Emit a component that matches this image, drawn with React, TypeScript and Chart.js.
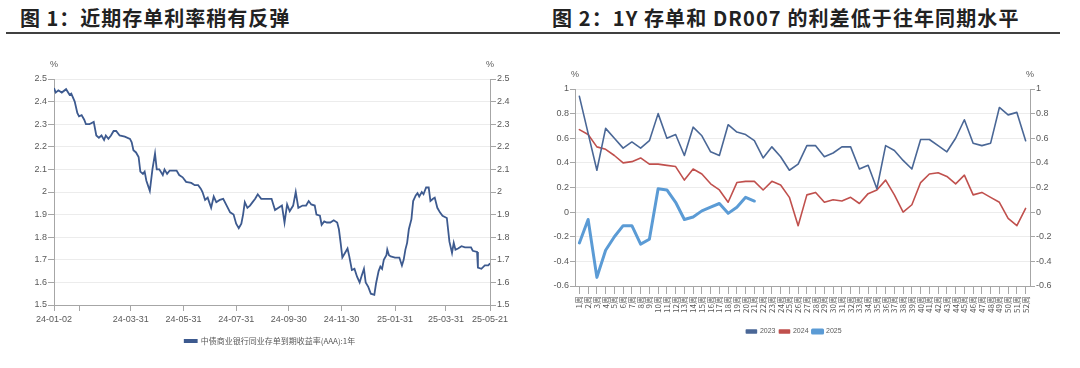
import React, { useEffect, useRef } from 'react';
import { Chart, registerables } from 'chart.js';

Chart.register(...registerables);

const FONT = '"Liberation Sans", "Noto Sans CJK SC", sans-serif';
const CJK = '"Noto Sans CJK SC", "Liberation Sans", sans-serif';

// ---------- Figure 1 ----------
const title1 = '图 1：近期存单利率稍有反弹';
const rateSeriesName = '中债商业银行同业存单到期收益率(AAA):1年';
// days since 2024-01-02
const rateDays = [
  0, 2, 5, 9, 14, 18, 20, 24, 27, 29, 32, 35, 37, 41, 46, 49, 52, 55, 58, 60,
  63, 66, 69, 72, 76, 82, 88, 90, 92, 95, 98, 100, 103, 105, 107, 111, 114, 117, 119, 122,
  126, 128, 131, 134, 138, 142, 145, 149, 153, 159, 163, 167, 170, 172, 175, 178, 182, 185, 188, 192,
  196, 200, 204, 208, 211, 214, 217, 219, 221, 224, 227, 230, 233, 236, 240, 244, 248, 252, 256, 260,
  264, 267, 270, 273, 277, 280, 283, 288, 292, 295, 298, 302, 304, 308, 310, 313, 316, 320, 324, 328,
  330, 332, 334, 337, 340, 342, 345, 348, 351, 354, 356, 359, 361, 364, 367, 371, 373, 376, 378, 380,
  382, 385, 386, 388, 390, 395, 400, 403, 405, 407, 409, 411, 414, 416, 419, 421, 423, 426, 428, 431,
  434, 436, 439, 441, 444, 447, 450, 455, 458, 461, 463, 465, 468, 472, 476, 480, 483, 485, 490, 491,
  495, 499, 503, 505,
];
const rateValues = [
  2.46, 2.44, 2.45, 2.44, 2.455, 2.43, 2.435, 2.4, 2.35, 2.335, 2.34, 2.32, 2.3, 2.3, 2.31, 2.25, 2.24, 2.25, 2.23, 2.25,
  2.235, 2.25, 2.27, 2.27, 2.25, 2.245, 2.235, 2.22, 2.185, 2.175, 2.155, 2.09, 2.08, 2.09, 2.05, 2.005, 2.1, 2.17, 2.1, 2.1,
  2.075, 2.1, 2.08, 2.095, 2.095, 2.095, 2.075, 2.065, 2.045, 2.04, 2.03, 2.03, 2.015, 2.0, 1.965, 1.975, 1.93, 1.98, 1.955, 1.965,
  1.97, 1.94, 1.91, 1.9, 1.86, 1.84, 1.86, 1.9, 1.955, 1.93, 1.94, 1.955, 1.97, 1.99, 1.97, 1.97, 1.97, 1.97, 1.92, 1.93,
  1.94, 1.865, 1.945, 1.915, 1.94, 2.0, 1.93, 1.94, 1.94, 1.96, 1.945, 1.94, 1.9, 1.895, 1.855, 1.87, 1.865, 1.865, 1.875, 1.865,
  1.835, 1.775, 1.71, 1.73, 1.75, 1.715, 1.655, 1.66, 1.625, 1.6, 1.625, 1.66, 1.6, 1.58, 1.55, 1.545, 1.595, 1.65, 1.67, 1.66,
  1.7, 1.72, 1.745, 1.72, 1.715, 1.71, 1.71, 1.675, 1.7, 1.745, 1.775, 1.835, 1.88, 1.96, 1.985, 1.995, 1.98, 2.0, 1.99, 2.02,
  2.02, 1.96, 1.97, 1.975, 1.93, 1.91, 1.895, 1.885, 1.78, 1.73, 1.775, 1.745, 1.75, 1.76, 1.755, 1.755, 1.755, 1.74, 1.735, 1.665,
  1.66, 1.675, 1.675, 1.685,
];
const rateTickDays = [0, 29, 89, 150, 211, 272, 333, 395, 454, 505];
const rateTickLabels = ['24-01-02', '', '24-03-31', '24-05-31', '24-07-31', '24-09-30', '24-11-30', '25-01-31', '25-03-31', '25-05-21'];

// ---------- Figure 2 ----------
const title2 = '图 2：1Y 存单和 DR007 的利差低于往年同期水平';
const weekLabels = [
  '1周', '2周', '3周', '4周', '5周', '6周', '7周', '8周', '9周', '10周',
  '11周', '12周', '13周', '14周', '15周', '16周', '17周', '18周', '19周', '20周',
  '21周', '22周', '23周', '24周', '25周', '26周', '27周', '28周', '29周', '30周',
  '31周', '32周', '33周', '34周', '35周', '36周', '37周', '38周', '39周', '40周',
  '41周', '42周', '43周', '44周', '45周', '46周', '47周', '48周', '49周', '50周',
  '51周', '52周',
];
const seriesNames = ['2023', '2024', '2025'];
const spread2023 = [
  0.94, 0.64, 0.34, 0.68, 0.6, 0.52, 0.57, 0.52, 0.58, 0.8,
  0.6, 0.63, 0.46, 0.69, 0.62, 0.49, 0.46, 0.71, 0.65, 0.63,
  0.58, 0.44, 0.53, 0.45, 0.34, 0.39, 0.54, 0.54, 0.45, 0.48,
  0.53, 0.53, 0.35, 0.38, 0.19, 0.54, 0.5, 0.42, 0.35, 0.59,
  0.59, 0.54, 0.49, 0.6, 0.75, 0.56, 0.54, 0.56, 0.85, 0.79,
  0.81, 0.58,
];
const spread2024 = [
  0.67, 0.63, 0.53, 0.51, 0.46, 0.4, 0.41, 0.44, 0.39, 0.39,
  0.38, 0.37, 0.26, 0.35, 0.31, 0.23, 0.18, 0.08, 0.24, 0.25,
  0.25, 0.18, 0.25, 0.22, 0.12, -0.11, 0.14, 0.16, 0.08, 0.1,
  0.09, 0.12, 0.07, 0.15, 0.18, 0.26, 0.14, 0.0, 0.06, 0.24,
  0.31, 0.32, 0.29, 0.23, 0.3, 0.14, 0.16, 0.12, 0.08, -0.05,
  -0.11, 0.03,
];
const spread2025 = [
  -0.25, -0.06, -0.53, -0.31, -0.2, -0.11, -0.11, -0.26, -0.22, 0.19,
  0.18, 0.08, -0.06, -0.04, 0.01, 0.04, 0.07, -0.01, 0.04, 0.12,
  0.09,
];
const seriesColors = ['#4a6796', '#c0504d', '#5b9bd5'];
const seriesWidths = [1.6, 1.6, 3];

const AXIS = '#a6a6a6';
const GRID = '#ececec';
const TEXT = '#595959';

function percentPlugin(offset: number) {
  return {
    id: 'pctLabels',
    afterDraw(chart: any) {
      const { ctx, chartArea } = chart;
      ctx.save();
      ctx.font = `9px ${FONT}`;
      ctx.fillStyle = TEXT;
      ctx.textAlign = 'center';
      ctx.textBaseline = 'middle';
      ctx.fillText('%', chartArea.left, chartArea.top - offset);
      ctx.fillText('%', chartArea.right, chartArea.top - offset);
      ctx.restore();
    },
  };
}

function fmt1(v: any) {
  const r = Math.round(Number(v) * 10) / 10;
  return String(r === 0 ? 0 : r);
}

function RateChart() {
  const ref = useRef<HTMLCanvasElement>(null);
  useEffect(() => {
    const yBase = {
      min: 1.5,
      max: 2.5,
      ticks: { stepSize: 0.1, color: TEXT, font: { size: 9, family: FONT }, padding: 1, callback: fmt1 },
      border: { color: AXIS },
    };
    const chart = new Chart(ref.current!, {
      type: 'line',
      data: {
        datasets: [
          {
            label: rateSeriesName,
            data: rateDays.map((d, i) => ({ x: d, y: rateValues[i] })),
            borderColor: '#3d5a8f',
            backgroundColor: '#3d5a8f',
            borderWidth: 1.8,
            pointRadius: 0,
            tension: 0,
          },
        ],
      },
      options: {
        responsive: false,
        animation: false,
        layout: { padding: { left: 0, right: 0, top: 39, bottom: 13 } },
        plugins: {
          legend: {
            position: 'bottom',
            labels: { boxWidth: 12, boxHeight: 2, padding: 10, color: TEXT, font: { size: 8, family: CJK } },
          },
          tooltip: { enabled: false },
        },
        scales: {
          x: {
            type: 'linear',
            min: 0,
            max: 505,
            afterBuildTicks: (s: any) => {
              s.ticks = rateTickDays.map((v) => ({ value: v }));
            },
            afterFit: (s: any) => {
              s.height = 22;
            },
            ticks: {
              autoSkip: false,
              maxRotation: 0,
              minRotation: 0,
              padding: 3,
              color: TEXT,
              font: { size: 9, family: FONT },
              callback: (_v: any, i: number) => rateTickLabels[i],
            },
            grid: { drawOnChartArea: false, tickLength: 6, tickColor: AXIS },
            border: { color: AXIS },
          },
          y: {
            ...yBase,
            position: 'left',
            afterFit: (s: any) => {
              s.width = 54;
            },
            grid: { color: GRID, tickLength: 6, tickColor: AXIS },
          },
          y2: {
            ...yBase,
            position: 'right',
            afterFit: (s: any) => {
              s.width = 50;
            },
            grid: { drawOnChartArea: false, tickLength: 6, tickColor: AXIS },
          },
        },
      },
      plugins: [percentPlugin(14)],
    } as any);
    return () => chart.destroy();
  }, []);
  return (
    <canvas
      ref={ref}
      width={540}
      height={328}
      style={{ position: 'absolute', left: 0, top: 40, width: 540, height: 328, display: 'block' }}
    />
  );
}

function SpreadChart() {
  const ref = useRef<HTMLCanvasElement>(null);
  useEffect(() => {
    const yBase = {
      min: -0.6,
      max: 1,
      ticks: { stepSize: 0.2, color: TEXT, font: { size: 9, family: FONT }, padding: 1, callback: fmt1 },
      border: { color: AXIS },
    };
    const series = [spread2023, spread2024, spread2025];
    const chart = new Chart(ref.current!, {
      type: 'line',
      data: {
        labels: weekLabels,
        datasets: series.map((d, i) => ({
          label: seriesNames[i],
          data: d,
          borderColor: seriesColors[i],
          backgroundColor: seriesColors[i],
          borderWidth: seriesWidths[i],
          pointRadius: 0,
          tension: 0,
          borderCapStyle: 'round',
          borderJoinStyle: 'round',
        })),
      },
      options: {
        responsive: false,
        animation: false,
        layout: { padding: { left: 0, right: 0, top: 49, bottom: 23 } },
        plugins: {
          legend: {
            position: 'bottom',
            labels: { boxWidth: 10, boxHeight: 3, padding: 4, color: TEXT, font: { size: 7, family: FONT } },
          },
          tooltip: { enabled: false },
        },
        scales: {
          x: {
            type: 'category',
            offset: true,
            afterFit: (s: any) => {
              s.height = 38;
            },
            ticks: {
              autoSkip: false,
              minRotation: 90,
              maxRotation: 90,
              padding: 2,
              color: TEXT,
              font: { size: 8, family: CJK },
            },
            grid: { drawOnChartArea: false, tickLength: 8, tickColor: AXIS },
            border: { color: AXIS },
          },
          y: {
            ...yBase,
            position: 'left',
            afterFit: (s: any) => {
              s.width = 59;
            },
            grid: { color: GRID, tickLength: 5, tickColor: AXIS },
          },
          y2: {
            ...yBase,
            position: 'right',
            afterFit: (s: any) => {
              s.width = 42;
            },
            grid: { drawOnChartArea: false, tickLength: 5, tickColor: AXIS },
          },
        },
      },
      plugins: [percentPlugin(14)],
    } as any);
    return () => chart.destroy();
  }, []);
  return (
    <canvas
      ref={ref}
      width={556}
      height={328}
      style={{ position: 'absolute', left: 516, top: 40, width: 556, height: 328, display: 'block' }}
    />
  );
}

export default function App() {
  const titleStyle: React.CSSProperties = {
    position: 'absolute',
    top: 4,
    fontFamily: CJK,
    fontWeight: 700,
    fontSize: 20,
    lineHeight: '28px',
    color: '#222',
    whiteSpace: 'nowrap',
  };
  return (
    <div
      style={{
        position: 'fixed',
        left: 0,
        top: 0,
        width: 1080,
        height: 368,
        background: '#fff',
        overflow: 'hidden',
      }}
    >
      <div style={{ ...titleStyle, left: 20, letterSpacing: 1 }}>{title1}</div>
      <div style={{ ...titleStyle, left: 552, letterSpacing: 1.1 }}>{title2}</div>
      <div style={{ position: 'absolute', left: 6, top: 32, width: 1054, height: 2, background: '#404040' }} />
      <RateChart />
      <SpreadChart />
    </div>
  );
}
